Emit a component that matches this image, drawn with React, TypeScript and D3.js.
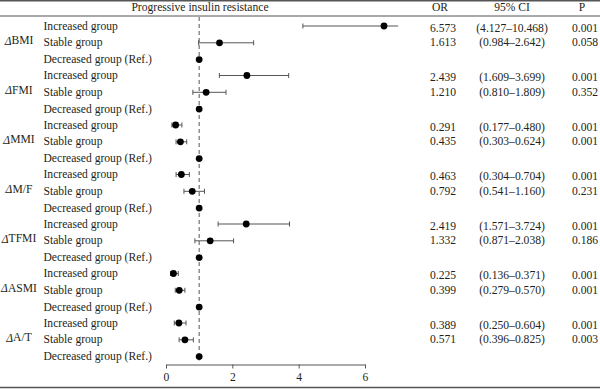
import React, { useEffect, useRef } from "react";
import * as d3 from "d3";

// variables (the Δ prefix is added when drawn)
const groups = ["BMI", "FMI", "MMI", "M/F", "TFMI", "ASMI", "A/T"];
const rowLabels = ["Increased group", "Stable group", "Decreased group (Ref.)"];

// increased group vs reference
const orIncreased = [6.573, 2.439, 0.291, 0.463, 2.419, 0.225, 0.389];
const lowIncreased = [4.127, 1.609, 0.177, 0.304, 1.571, 0.136, 0.25];
const highIncreased = [10.468, 3.699, 0.48, 0.704, 3.724, 0.371, 0.604];
const pIncreased = ["0.001", "0.001", "0.001", "0.001", "0.001", "0.001", "0.001"];

// stable group vs reference
const orStable = [1.613, 1.21, 0.435, 0.792, 1.332, 0.399, 0.571];
const lowStable = [0.984, 0.81, 0.303, 0.541, 0.871, 0.279, 0.396];
const highStable = [2.642, 1.809, 0.624, 1.16, 2.038, 0.57, 0.825];
const pStable = ["0.058", "0.352", "0.001", "0.231", "0.186", "0.001", "0.003"];

const refOR = 1;
const xTicks = [0, 2, 4, 6];

const FONT = "'Liberation Serif', serif";
const FS = "11.6px";
const TEXT = "#231f20";
const LINE = "#555";

export default function App() {
  const axisRef = useRef<SVGGElement>(null);

  const width = 600;
  const height = 389;
  const axisY = 364.5;
  const clipMax = 7;
  const rowStep = 16.8;
  const capH = 5;

  const x = d3.scaleLinear().domain([0, 6]).range([166, 365]);
  const yGroup = d3.scaleLinear().domain([0, groups.length - 1]).range([26, 323]);
  const rowY = (g: number, r: number) => yGroup(g) + r * rowStep;

  useEffect(() => {
    const g = d3.select(axisRef.current);
    g.selectAll("*").remove();
    g.call(
      d3.axisBottom(x).tickValues(xTicks).tickFormat(d3.format("d")).tickSize(4).tickSizeOuter(0)
    );
    g.selectAll("path, line").attr("stroke", LINE);
    g.selectAll("text")
      .attr("fill", TEXT)
      .style("font-family", FONT)
      .style("font-size", FS)
      .attr("dy", "0.8em");
  }, []);

  const ci = (lo: number, hi: number, or: number, key: string, y: number) => {
    const hiC = Math.min(hi, clipMax);
    return (
      <g key={key}>
        <line x1={x(lo)} x2={x(hiC)} y1={y} y2={y} stroke={LINE} strokeWidth={1} />
        <line x1={x(lo)} x2={x(lo)} y1={y - capH / 2} y2={y + capH / 2} stroke={LINE} />
        {hi <= clipMax && (
          <line x1={x(hi)} x2={x(hi)} y1={y - capH / 2} y2={y + capH / 2} stroke={LINE} />
        )}
        <circle cx={x(or)} cy={y} r={3.4} fill="#000" />
      </g>
    );
  };

  const textStyle = { fontFamily: FONT, fontSize: FS, fill: TEXT } as const;

  return (
    <svg
      width={width}
      height={height}
      style={{ position: "absolute", left: 0, top: 0, background: "#fff" }}
    >
      {/* table rules */}
      <line x1={0} x2={width} y1={0.75} y2={0.75} stroke={LINE} strokeWidth={1.5} />
      <line x1={0} x2={width} y1={16} y2={16} stroke={LINE} strokeWidth={1} />
      <line x1={0} x2={width} y1={387.5} y2={387.5} stroke={LINE} strokeWidth={1.5} />

      {/* headers */}
      <g style={textStyle} dominantBaseline="middle" textAnchor="middle">
        <text x={200} y={8.5}>Progressive insulin resistance</text>
        <text x={440} y={8.5}>OR</text>
        <text x={512} y={8.5}>95% CI</text>
        <text x={582} y={8.5}>P</text>
      </g>

      {/* reference line */}
      <line
        x1={x(refOR)}
        x2={x(refOR)}
        y1={17}
        y2={axisY - 4}
        stroke={LINE}
        strokeWidth={1}
        strokeDasharray="4,3"
      />

      {groups.map((name, g) => (
        <g key={name}>
          <text
            x={19}
            y={rowY(g, 1) - 1}
            style={textStyle}
            textAnchor="middle"
            dominantBaseline="middle"
          >
            <tspan fontStyle="italic">Δ</tspan>
            {name}
          </text>
          {rowLabels.map((lab, r) => (
            <text
              key={lab}
              x={43.5}
              y={rowY(g, r) + 1}
              style={textStyle}
              dominantBaseline="middle"
            >
              {lab}
            </text>
          ))}
          {ci(lowIncreased[g], highIncreased[g], orIncreased[g], "inc", rowY(g, 0))}
          {ci(lowStable[g], highStable[g], orStable[g], "sta", rowY(g, 1))}
          <circle cx={x(refOR)} cy={rowY(g, 2)} r={3.4} fill="#000" />

          {/* table values */}
          {[
            [orIncreased[g], lowIncreased[g], highIncreased[g], pIncreased[g]],
            [orStable[g], lowStable[g], highStable[g], pStable[g]],
          ].map((row, r) => {
            const ty = yGroup(g) + 3 + r * 14.5;
            return (
              <g key={r} style={textStyle} dominantBaseline="middle">
                <text x={430} y={ty}>{(row[0] as number).toFixed(3)}</text>
                <text x={512} y={ty} textAnchor="middle">
                  {`(${(row[1] as number).toFixed(3)}–${(row[2] as number).toFixed(3)})`}
                </text>
                <text x={572} y={ty}>{row[3]}</text>
              </g>
            );
          })}
        </g>
      ))}

      <g ref={axisRef} transform={`translate(0,${axisY})`} />
    </svg>
  );
}
